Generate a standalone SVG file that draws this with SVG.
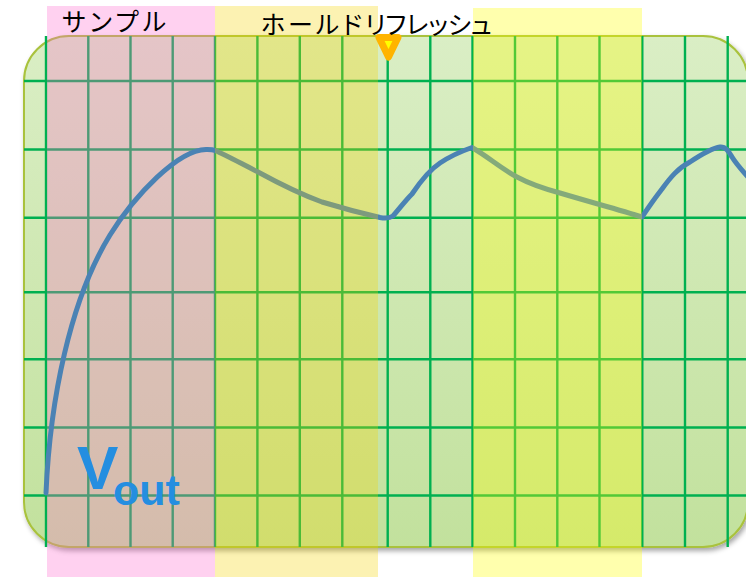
<svg xmlns="http://www.w3.org/2000/svg" width="746" height="577" viewBox="0 0 746 577">
<defs>
<linearGradient id="bg" x1="0" y1="0" x2="0" y2="1">
<stop offset="0" stop-color="#daeec5"/>
<stop offset="1" stop-color="#c2e19d"/>
</linearGradient>
<filter id="sh" x="-5%" y="-5%" width="110%" height="115%">
<feDropShadow dx="2" dy="3" stdDeviation="2.5" flood-color="#000" flood-opacity="0.35"/>
</filter>
<style>
.g{stroke:#00b050;stroke-width:2.4;fill:none}
.wave{fill:none;stroke:#4a82b4;stroke-width:5;stroke-linecap:round;stroke-linejoin:round}
.jp{font-family:"Noto Sans CJK JP","Noto Sans",sans-serif;font-size:25px;fill:#000;font-feature-settings:"palt"}
.vout{font-family:"Liberation Sans",Arial,sans-serif;font-weight:bold;fill:#248ee0}
</style>
</defs>
<g id="screen">
<rect x="24" y="36" width="724" height="511" rx="45" ry="45" fill="url(#bg)" stroke="#a9c23c" stroke-width="2" filter="url(#sh)"/>
</g>
<g id="grid">
<path class="g" d="M46,36V547M88.3,36V547M130.5,36V547M172.7,36V547M215,36V547M257.4,36V547M299.8,36V547M342.3,36V547M387.7,36V547M430.3,36V547M472.5,36V547M515,36V547M557.3,36V547M599.5,36V547M642.3,36V547M685,36V547M727.7,36V547"/>
<path class="g" d="M24,81H746M24,149.5H746M24,217.7H746M24,292.3H746M24,359.3H746M24,427.5H746M24,495.5H746"/>
</g>
<g id="sample">
<rect x="47" y="6" width="168" height="571" fill="#ff66cc" fill-opacity="0.3"/>
</g>
<g id="connectors">
<path class="wave" d="M46,493 C50,400 70,300 110,235 C135,195 178,150 206,149.5 C210,149.4 213,149.6 215,150.5 C226,155 242,164 258,172 C280,184 300,194 322,202 C345,209 365,214 380,217.5 C385,218.5 390,218 393,216 C400,208 405,201 412,194 C420,182 428,171 440,163 C452,155 462,151 472,147.5 C490,158 500,168 517,177 C532,185 545,189 560,193 C590,202 620,210 642,217 C650,205 655,198 662,189 C670,178 678,168 690,162 C702,154 712,148 720,147 C726,146.5 729,152 732,157 C737,165 742,170 748,177"/>
</g>
<g id="hold1">
<rect x="215" y="6" width="163" height="571" fill="#f5d500" fill-opacity="0.3"/>
</g>
<g id="hold2">
<rect x="473" y="8" width="169" height="569" fill="#ffff00" fill-opacity="0.32"/>
</g>
<g id="marker">
<polygon points="379,37.5 398,37.5 388.5,57" fill="#ffff00" stroke="#ffb400" stroke-width="7" stroke-linejoin="round"/>
</g>
<g id="labels">
<text class="jp" x="62" y="31" textLength="104" lengthAdjust="spacing">サンプル</text>
<text class="jp" x="261" y="34" textLength="101" lengthAdjust="spacing">ホールド</text>
<text class="jp" x="365" y="34" textLength="127" lengthAdjust="spacing">リフレッシュ</text>
<text class="vout" x="77" y="489" font-size="62">V</text>
<text class="vout" x="113" y="505" font-size="43">out</text>
</g>
</svg>
